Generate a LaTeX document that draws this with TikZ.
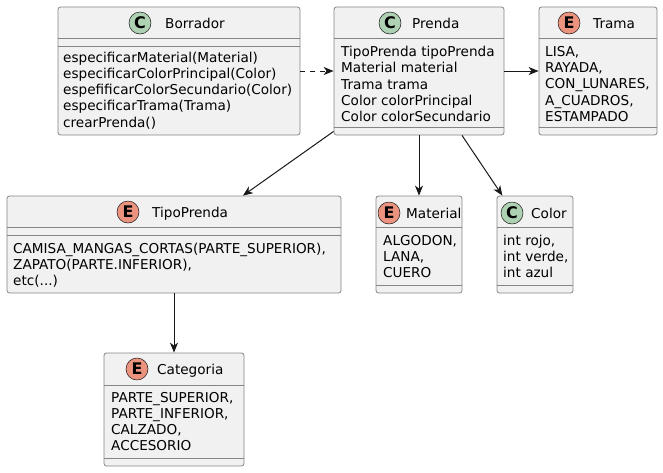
\documentclass[tikz,border=0pt]{standalone}
\usepackage{fontspec}
\setmainfont{DejaVu Sans}
\usetikzlibrary{calc,positioning,arrows.meta}
\definecolor{umlborder}{HTML}{181818}
\definecolor{umledge}{HTML}{858585}
\definecolor{umlfill}{HTML}{F1F1F1}
\definecolor{clsgreen}{HTML}{ADD1B2}
\definecolor{enumred}{HTML}{EB937F}
\tikzset{
    umlbox/.style={
    rectangle,rounded corners=2.5pt,draw=umledge,fill=umlfill,line width=0.8pt,inner sep=0pt
    },
    sepline/.style={
    draw=umledge,line width=0.8pt
    },
    clsmark/.style={
    circle,draw=umlborder,fill=clsgreen,line width=0.5pt,minimum size=22pt,inner sep=0pt,font=\fontsize{16}{16}\selectfont\bfseries
    },
    enummark/.style={
    clsmark,fill=enumred
    },
  umlname/.style={anchor=base west, inner sep=0pt, font=\fontsize{13.6}{16.2}\selectfont},
  umlbody/.style={anchor=west, inner sep=0pt, align=left, font=\fontsize{13.6}{16.2}\selectfont},
  line/.style={draw=umlborder, line width=1pt, -{Stealth[length=10pt,width=8pt,inset=3pt]}},
  dline/.style={line, dash pattern=on 5pt off 5pt}
}
\begin{document}
\begin{tikzpicture}[x=1pt,y=-1pt]
    \useasboundingbox (0,0) rectangle (663,472);

    \node[umlbox,minimum width=242pt,minimum height=128pt] (borrador) at (179,71) {};
    \node[umlbox,minimum width=170pt,minimum height=128pt] (prenda) at (419,71) {};
    \node[umlbox,minimum width=118pt,minimum height=128pt] (trama) at (598,71) {};
    \node[umlbox,minimum width=334pt,minimum height=97pt] (tipoprenda) at (174,244.5) {};
    \node[umlbox,minimum width=86pt,minimum height=97pt] (material) at (419,244.5) {};
    \node[umlbox,minimum width=76pt,minimum height=97pt] (color) at (535,244.5) {};
    \node[umlbox,minimum width=140pt,minimum height=113pt] (categoria) at (174,409.5) {};

    \draw[sepline] ($(borrador.north west)+(0,31.5)$) -- ($(borrador.north east)+(0,31.5)$);
    \draw[sepline] ($(borrador.north west)+(0,39.5)$) -- ($(borrador.north east)+(0,39.5)$);
    \draw[sepline] ($(prenda.north west)+(0,31.5)$) -- ($(prenda.north east)+(0,31.5)$);
    \draw[sepline] ($(prenda.north west)+(0,121)$) -- ($(prenda.north east)+(0,121)$);
    \draw[sepline] ($(trama.north west)+(0,31.5)$) -- ($(trama.north east)+(0,31.5)$);
    \draw[sepline] ($(trama.north west)+(0,121)$) -- ($(trama.north east)+(0,121)$);
    \draw[sepline] ($(tipoprenda.north west)+(0,32)$) -- ($(tipoprenda.north east)+(0,32)$);
    \draw[sepline] ($(tipoprenda.north west)+(0,40)$) -- ($(tipoprenda.north east)+(0,40)$);
    \draw[sepline] ($(material.north west)+(0,32)$) -- ($(material.north east)+(0,32)$);
    \draw[sepline] ($(material.north west)+(0,90)$) -- ($(material.north east)+(0,90)$);
    \draw[sepline] ($(color.north west)+(0,32)$) -- ($(color.north east)+(0,32)$);
    \draw[sepline] ($(color.north west)+(0,90)$) -- ($(color.north east)+(0,90)$);
    \draw[sepline] ($(categoria.north west)+(0,32.5)$) -- ($(categoria.north east)+(0,32.5)$);
    \draw[sepline] ($(categoria.north west)+(0,106)$) -- ($(categoria.north east)+(0,106)$);

    \node[clsmark] (borrador-c) at (140,23) {C};
    \node[umlname] (borrador-n) at (165,28) {Borrador};
    \node[clsmark] (prenda-c) at (390,23) {C};
    \node[umlname] (prenda-n) at (412,28) {Prenda};
    \node[enummark] (trama-e) at (569,23) {E};
    \node[umlname] (trama-n) at (593,28) {Trama};
    \node[enummark] (tipoprenda-e) at (128,212) {E};
    \node[umlname] (tipoprenda-n) at (152,217) {TipoPrenda};
    \node[enummark] (material-e) at (389,213) {E};
    \node[umlname] (material-n) at (406,218) {Material};
    \node[clsmark] (color-c) at (512,213) {C};
    \node[umlname] (color-n) at (531,218) {Color};
    \node[enummark] (categoria-e) at (137,369) {E};
    \node[umlname] (categoria-n) at (157,374) {Categoria};

    \node[umlbody] (borrador-b) at (63,90.5) {especificarMaterial(Material)\\ especificarColorPrincipal(Color)\\ espefificarColorSecundario(Color)\\ especificarTrama(Trama)\\ crearPrenda()};
    \node[umlbody] (prenda-b) at (341,84) {TipoPrenda tipoPrenda\\ Material material\\ Trama trama\\ Color colorPrincipal\\ Color colorSecundario};
    \node[umlbody] (trama-b) at (545,84) {LISA,\\ RAYADA,\\ CON\_LUNARES,\\ A\_CUADROS,\\ ESTAMPADO};
    \node[umlbody] (tipoprenda-b) at (13,265) {CAMISA\_MANGAS\_CORTAS(PARTE\_SUPERIOR),\\ ZAPATO(PARTE.INFERIOR),\\ etc(...)};
    \node[umlbody] (material-b) at (383,256.5) {ALGODON,\\ LANA,\\ CUERO};
    \node[umlbody] (color-b) at (503,256.5) {int rojo,\\ int verde,\\ int azul};
    \node[umlbody] (categoria-b) at (111,421.5) {PARTE\_SUPERIOR,\\ PARTE\_INFERIOR,\\ CALZADO,\\ ACCESORIO};

    \begin{scope} [every path/.style=line]
      \path[dline] (borrador) -- (prenda);
      \path (prenda) -- (trama);
      \path (prenda) -- (tipoprenda);
      \path (prenda) -- (material);
      \path (prenda) -- (color);
      \path (tipoprenda) -- (categoria);
    \end{scope}

\end{tikzpicture}
\end{document}
